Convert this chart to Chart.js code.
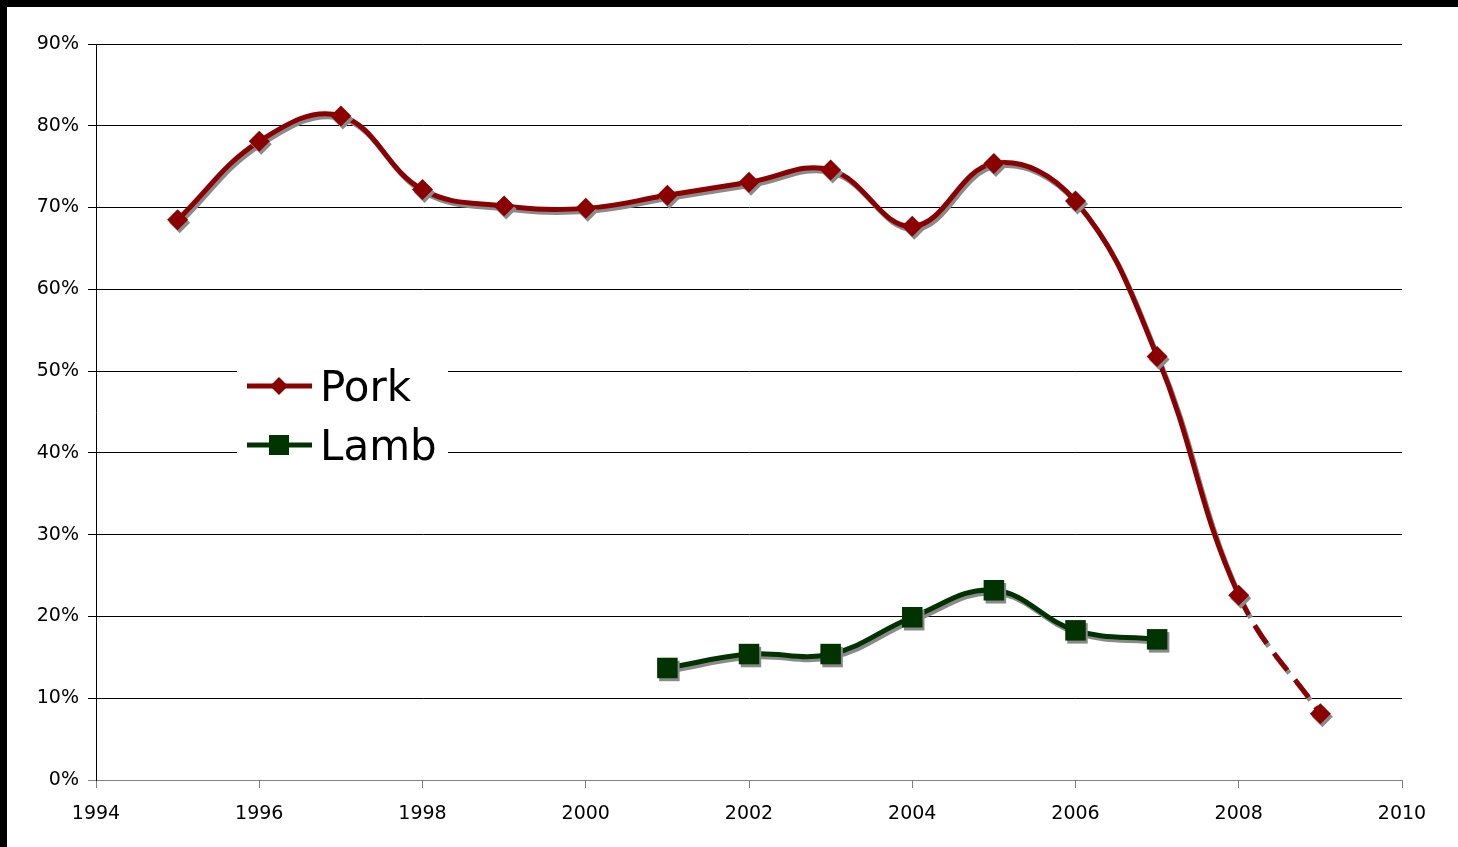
<!DOCTYPE html>
<html>
<head>
<meta charset="utf-8">
<script src="https://cdn.jsdelivr.net/npm/chart.js@4.4.1/dist/chart.umd.min.js"></script>
<style>
  html, body { margin: 0; padding: 0; background: #000; }
  #wrap { position: absolute; left: 7px; top: 7px; width: 1451px; height: 840px; background: #fff; }
</style>
</head>
<body>
<div id="wrap"><canvas id="myChart" width="1451" height="840"></canvas></div>
<script>
// share of meat, by year
const porkYears = [1995, 1996, 1997, 1998, 1999, 2000, 2001, 2002, 2003, 2004, 2005, 2006, 2007, 2008, 2009];
const porkValues = [68.5, 78.1, 81.2, 72.2, 70.2, 69.9, 71.5, 73.1, 74.6, 67.7, 75.4, 70.8, 51.8, 22.6, 8.1];
const lambYears = [2001, 2002, 2003, 2004, 2005, 2006, 2007];
const lambValues = [13.7, 15.4, 15.4, 19.9, 23.2, 18.3, 17.2];
const seriesNames = ["Pork", "Lamb"];
const seriesColors = ["#8b0000", "#003300"];

const tickFont = { family: "'DejaVu Sans', Verdana, sans-serif", size: 19 };

// gray drop shadow under the lines and markers
const shadowPlugin = {
  id: "shadow",
  beforeDatasetsDraw(chart) {
    const ctx = chart.ctx;
    ctx.save();
    ctx.shadowColor = "#8a8a8a";
    ctx.shadowOffsetX = 2;
    ctx.shadowOffsetY = 3;
    ctx.shadowBlur = 0;
  },
  afterDatasetsDraw(chart) {
    chart.ctx.restore();
  },
};

// legend box sitting inside the plot
const insideLegend = {
  id: "insideLegend",
  afterDraw(chart) {
    const ctx = chart.ctx;
    ctx.save();
    ctx.fillStyle = "#fff";
    ctx.fillRect(230, 340, 211, 130);
    const rows = [379, 438];
    chart.data.datasets.forEach((ds, i) => {
      const y = rows[i];
      ctx.strokeStyle = ds.borderColor;
      ctx.lineWidth = 5;
      ctx.beginPath();
      ctx.moveTo(240, y);
      ctx.lineTo(305, y);
      ctx.stroke();
      ctx.fillStyle = ds.borderColor;
      ctx.beginPath();
      if (ds.pointStyle === "rectRot") {
        ctx.moveTo(272, y - 9);
        ctx.lineTo(281, y);
        ctx.lineTo(272, y + 9);
        ctx.lineTo(263, y);
        ctx.closePath();
      } else {
        ctx.rect(262, y - 10, 20, 20);
      }
      ctx.fill();
      ctx.fillStyle = "#000";
      ctx.font = "42px 'DejaVu Sans', Verdana, sans-serif";
      ctx.textBaseline = "middle";
      ctx.fillText(ds.label, 313, y + 4);
    });
    ctx.restore();
  },
};

const toPoints = (xs, ys) => xs.map((x, i) => ({ x: x, y: ys[i] }));

const ctx = document.getElementById("myChart");
new Chart(ctx, {
  type: "line",
  data: {
    datasets: [
      {
        label: seriesNames[0],
        data: toPoints(porkYears, porkValues),
        borderColor: seriesColors[0],
        backgroundColor: seriesColors[0],
        borderWidth: 5,
        pointStyle: "rectRot",
        pointRadius: 10.5,
        pointBorderWidth: 0,
        tension: 0.4,
        segment: {
          // last year is an estimate, drawn dashed
          borderDash: (c) => (c.p0DataIndex === porkYears.length - 2 ? [22, 12] : undefined),
        },
      },
      {
        label: seriesNames[1],
        data: toPoints(lambYears, lambValues),
        borderColor: seriesColors[1],
        backgroundColor: seriesColors[1],
        borderWidth: 5,
        pointStyle: "rect",
        pointRadius: 14.5,
        pointBorderWidth: 0,
        tension: 0.4,
      },
    ],
  },
  options: {
    responsive: false,
    animation: false,
    layout: { padding: { top: 37, right: 56, left: 0, bottom: 0 } },
    plugins: {
      legend: { display: false },
      tooltip: { enabled: false },
    },
    scales: {
      x: {
        type: "linear",
        min: 1994,
        max: 2010,
        afterFit: (scale) => { scale.height = 67; },
        ticks: {
          stepSize: 2,
          color: "#000",
          font: tickFont,
          padding: 15,
          callback: (v) => String(v),
        },
        grid: {
          drawOnChartArea: false,
          drawTicks: true,
          tickLength: 8,
          color: "#808080",
        },
        border: { color: "#808080", width: 1 },
      },
      y: {
        min: 0,
        max: 90,
        afterFit: (scale) => { scale.width = 89; },
        ticks: {
          stepSize: 10,
          color: "#000",
          font: tickFont,
          padding: 9,
          callback: (v) => v + "%",
        },
        grid: {
          color: (c) => (c.tick && c.tick.value === 0 ? "#808080" : "#000"),
          tickLength: 8,
          lineWidth: 1,
        },
        border: { color: "#000", width: 1 },
      },
    },
  },
  plugins: [shadowPlugin, insideLegend],
});
</script>
</body>
</html>
